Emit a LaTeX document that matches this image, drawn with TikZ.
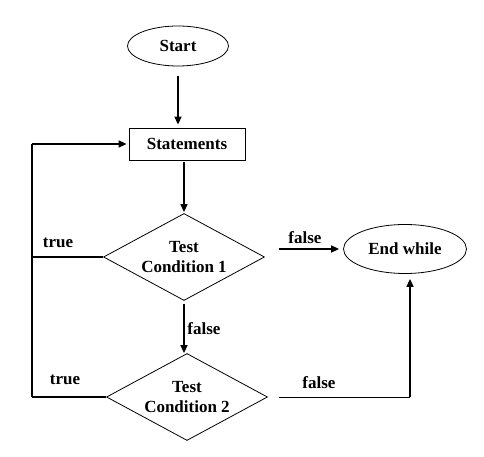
\documentclass[tikz,border=0pt]{standalone}
\usepackage{fontspec}
\setmainfont{Liberation Serif}
\usetikzlibrary{shapes.geometric, arrows.meta}

\begin{document}
\begin{tikzpicture}[x=1pt, y=1pt,
    every node/.style={font=\fontsize{17}{20}\selectfont\bfseries},
    terminal/.style={draw, ellipse, line width=0.8pt, inner sep=0pt},
    process/.style={draw, rectangle, line width=0.8pt, minimum width=116pt, minimum height=32pt},
    decision/.style={draw, diamond, line width=0.8pt, inner sep=0pt, aspect=1.85,
      minimum width=161pt, minimum height=87pt, align=center},
    flow/.style={line width=1.6pt, -{Triangle[length=8pt, width=7pt]}},
    branch/.style={line width=2.4pt}]
  \useasboundingbox (0, 0) rectangle (484, 457);
  \node[terminal, minimum width=101pt, minimum height=40pt] (start) at (178, 411) {Start};
  \node[process] (stmts) at (187, 313) {Statements};
  \node[decision] (cond1) at (184, 200) {Test\\Condition 1};
  \node[decision] (cond2) at (187, 60) {Test\\Condition 2};
  \node[terminal, minimum width=123pt, minimum height=49pt] (endw) at (405, 208) {End while};
  \coordinate (loop) at (32, 313);
  \draw[flow, shorten <=10pt, shorten >=3pt] (start.south) -- (start.south |- stmts.north);
  \draw[flow, shorten <=2pt, shorten >=1pt] (cond1.north |- stmts.south) -- (cond1.north);
  \draw[flow, shorten <=3pt] (cond1.south) -- (cond1.south |- cond2.north);
  \draw[flow, shorten <=14pt, shorten >=4pt] (endw.west -| cond1.east) -- (endw.west);
  \draw[line width=0.8pt, shorten <=11pt] (cond2.east) -- ([xshift=5pt]cond2.east -| endw.south);
  \draw[flow, shorten >=5pt] ([xshift=5pt]cond2.east -| endw.south) -- ([xshift=5pt]endw.south);
  \draw[branch] (cond2.west) -- (cond2.west -| loop);
  \draw[branch] (cond1.west) -- (cond1.west -| loop);
  \draw[line width=1.6pt] (cond2.west -| loop) -- (loop);
  \draw[flow, shorten >=2pt] (loop) -- (stmts.west);
  \node (true1) at (58, 214) {true};
  \node (true2) at (65, 77) {true};
  \node (false1) at (305, 219) {false};
  \node (false2) at (204, 128) {false};
  \node (false3) at (319, 74) {false};
\end{tikzpicture}
\end{document}
